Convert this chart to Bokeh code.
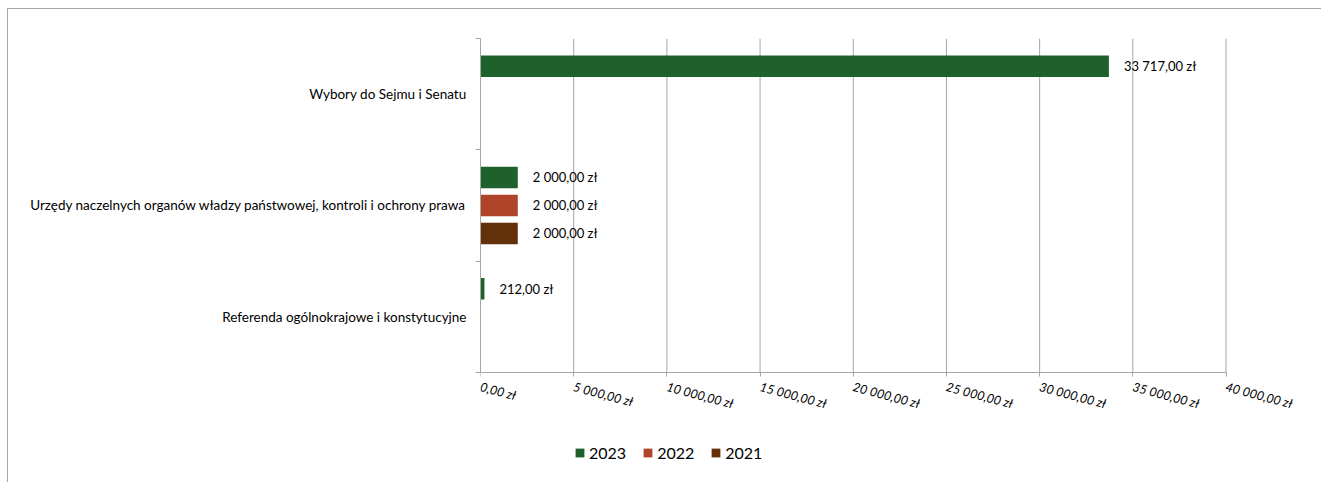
from math import isnan
from bokeh.plotting import figure
from bokeh.models import (Range1d, FixedTicker, Legend, LegendItem, ColumnDataSource, LinearAxis)
from bokeh.transform import dodge
from bokeh.core.properties import value
from bokeh.embed import file_html
from bokeh.resources import INLINE

# ---------------- data ----------------
categories = [
    "Wybory do Sejmu i Senatu",
    "Urzędy naczelnych organów władzy państwowej, kontroli i ochrony prawa",
    "Referenda ogólnokrajowe i konstytucyjne",
]
years = ["2023", "2022", "2021"]
values_2023 = [33717, 2000, 212]
values_2022 = [float("nan"), 2000, float("nan")]
values_2021 = [float("nan"), 2000, float("nan")]
x_ticks = [0, 5000, 10000, 15000, 20000, 25000, 30000, 35000, 40000]
x_tick_labels = ["0,00 zł", "5 000,00 zł", "10 000,00 zł", "15 000,00 zł", "20 000,00 zł",
                 "25 000,00 zł", "30 000,00 zł", "35 000,00 zł", "40 000,00 zł"]
colors = ["#1F612C", "#B0442A", "#63300A"]

# ---------------- styling / layout ----------------
FONT = "Lato"
GRID = "#a6a6a6"
TXT = "#000000"
W, H = 1314, 474
BORDER_L, BORDER_T = 472, 29
SLOT_PX = 111.33            # pixel height of one category slot
AXIS_PX = 745.5             # pixel width of the 0..40000 value axis


def fmt(v):
    s = f"{v:,.2f}".replace(",", " ").replace(".", ",")
    return s + " zł"


n = len(categories)
cat_pos = [n - i - 0.5 for i in range(n)]          # slot centres, first category on top
boundaries = [float(k) for k in range(n + 1)]
x_min, x_max = x_ticks[0], x_ticks[-1]
# frame extends right of and below the value axis so tick labels and legend are not clipped
x_end = x_min + (x_max - x_min) * (W - BORDER_L) / AXIS_PX
y_bottom = n - (H - BORDER_T) / SLOT_PX

p = figure(width=W, height=H, output_backend="svg", toolbar_location=None,
           x_range=Range1d(x_min, x_end), y_range=Range1d(y_bottom, n),
           x_axis_location=None,
           min_border_left=BORDER_L, min_border_right=0, min_border_top=BORDER_T,
           min_border_bottom=0)
p.outline_line_color = None
p.background_fill_color = "white"
p.border_fill_color = "white"
p.styles = {"margin-left": "8px", "margin-top": "9px",
            "box-shadow": "-1px -1px 0px 0px #a6a6a6"}
p.xgrid.visible = False
p.ygrid.visible = False

# vertical grid lines over the category area
p.segment(x0=x_ticks[1:], y0=0, x1=x_ticks[1:], y1=n, line_color=GRID, line_width=1)
# value axis line
p.segment(x0=[x_min], y0=[0], x1=[x_max], y1=[0], line_color=GRID, line_width=1)

# x axis fixed at y = 0
xa = LinearAxis(fixed_location=0, bounds=(x_min, x_max))
xa.ticker = FixedTicker(ticks=x_ticks, minor_ticks=[])
xa.major_label_overrides = dict(zip(x_ticks, x_tick_labels))
xa.major_label_orientation = -0.26
xa.major_label_text_font = FONT
xa.major_label_text_font_style = "italic"
xa.major_label_text_font_size = "12.5px"
xa.major_label_text_color = TXT
xa.major_label_standoff = 10
xa.major_tick_out = 4
xa.major_tick_in = 0
xa.minor_tick_line_color = None
xa.axis_line_color = GRID
xa.major_tick_line_color = GRID
p.add_layout(xa, "below")

# y axis: labels at slot centres, ticks at slot boundaries
ya = p.yaxis[0]
ya.bounds = (0, n)
ya.ticker = FixedTicker(ticks=cat_pos, minor_ticks=boundaries)
ya.major_label_overrides = dict(zip(cat_pos, categories))
ya.major_tick_line_color = None
ya.major_tick_out = 0
ya.major_tick_in = 0
ya.minor_tick_out = 5
ya.minor_tick_in = 0
ya.minor_tick_line_color = GRID
ya.axis_line_color = GRID
ya.major_label_standoff = 9
ya.major_label_text_font = FONT
ya.major_label_text_font_size = "13.5px"
ya.major_label_text_color = TXT

# bars
src = ColumnDataSource(dict(pos=cat_pos, y2023=values_2023, y2022=values_2022, y2021=values_2021))
series = [("y2023", values_2023), ("y2022", values_2022), ("y2021", values_2021)]
step = 0.2515
bar_h = 0.193
items = []
for i, ((col, vals), yr, colr) in enumerate(zip(series, years, colors)):
    off = (1 - i) * step
    r = p.hbar(y=dodge("pos", off), left=0, right=col, height=bar_h,
               source=src, fill_color=colr, line_color=None)
    items.append(LegendItem(label=yr, renderers=[r]))
    pos_l = [c for c, v in zip(cat_pos, vals) if not isnan(v)]
    vals_l = [v for v in vals if not isnan(v)]
    lsrc = ColumnDataSource(dict(pos=pos_l, x=vals_l, t=[fmt(v) for v in vals_l]))
    p.text(x="x", y=dodge("pos", off), text="t", source=lsrc,
           x_offset=15, text_baseline="middle", text_align="left",
           text_font=value(FONT), text_font_size=value("13px"), text_color=TXT)

legend = Legend(items=items, orientation="horizontal", location=(94, 21),
                glyph_width=11, glyph_height=11, label_text_font=FONT,
                label_text_font_size="16px", label_text_color=TXT, spacing=16,
                label_standoff=4, padding=0, margin=0, border_line_color=None,
                background_fill_alpha=0)
p.add_layout(legend, "center")

open("out.html", "w").write(file_html(p, INLINE))
